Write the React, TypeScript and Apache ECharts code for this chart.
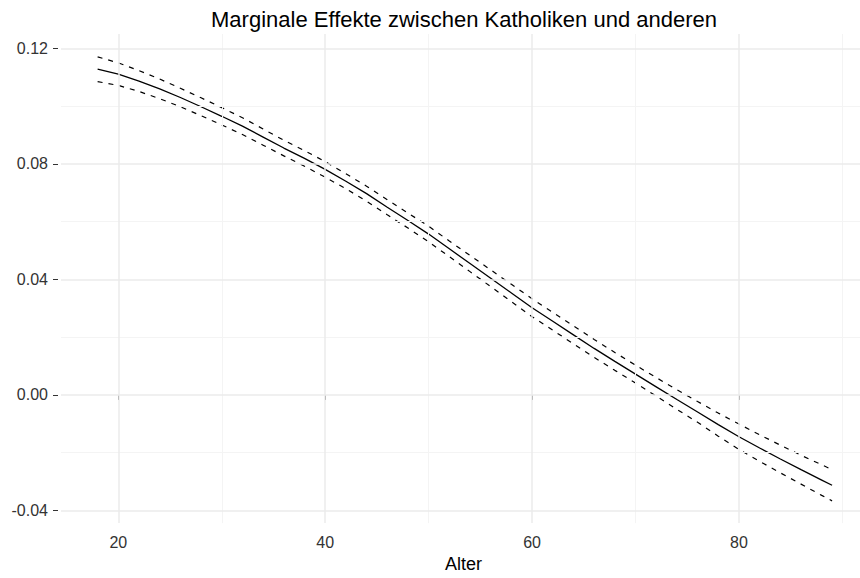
import React, { useEffect, useRef } from "react";
import * as echarts from "echarts";

// Age values (x)
const ages = [18, 20, 22, 24, 26, 28, 30, 32, 34, 36, 38, 40, 42, 44, 46, 48, 50, 52, 54, 56, 58, 60, 62, 64, 66, 68, 70, 72, 74, 76, 78, 80, 82, 84, 86, 88, 89];
// Marginal effect (solid line)
const effect = [0.1128, 0.1111, 0.1087, 0.106, 0.103, 0.0998, 0.0965, 0.0931, 0.0893, 0.0855, 0.0819, 0.0781, 0.074, 0.0697, 0.065, 0.0604, 0.0557, 0.0506, 0.0455, 0.0404, 0.0353, 0.0302, 0.0255, 0.0208, 0.0161, 0.0116, 0.0072, 0.0028, -0.0016, -0.0059, -0.0103, -0.0145, -0.0184, -0.0222, -0.0259, -0.0295, -0.0313];
// Upper confidence bound (dashed)
const upper = [0.1171, 0.115, 0.1123, 0.1094, 0.1062, 0.1029, 0.0995, 0.096, 0.0921, 0.0882, 0.0846, 0.0808, 0.0766, 0.0723, 0.0676, 0.063, 0.0584, 0.0533, 0.0483, 0.0433, 0.0383, 0.0333, 0.0286, 0.0239, 0.0192, 0.0147, 0.0103, 0.006, 0.0018, -0.0023, -0.0063, -0.0101, -0.0138, -0.0174, -0.0209, -0.0242, -0.0259];
// Lower confidence bound (dashed)
const lower = [0.1085, 0.1072, 0.1051, 0.1026, 0.0998, 0.0967, 0.0935, 0.0902, 0.0865, 0.0828, 0.0792, 0.0754, 0.0714, 0.0671, 0.0624, 0.0578, 0.053, 0.0479, 0.0427, 0.0375, 0.0323, 0.0271, 0.0224, 0.0177, 0.013, 0.0085, 0.0041, -0.0004, -0.005, -0.0095, -0.0143, -0.0189, -0.023, -0.027, -0.0309, -0.0348, -0.0367];

const xTicks = [20, 40, 60, 80];
const xMinor = [30, 50, 70, 90];
const yTicks = [-0.04, 0.0, 0.04, 0.08, 0.12];
const yMinor = [-0.02, 0.02, 0.06, 0.1];

const TITLE = "Marginale Effekte zwischen Katholiken und anderen";
const X_NAME = "Alter";

const FONT = "'Liberation Sans', Arial, sans-serif";

export default function App() {
  const ref = useRef<HTMLDivElement>(null);

  useEffect(() => {
    if (!ref.current) return;
    const chart = echarts.init(ref.current, null, { renderer: "svg" });

    const major = { color: "#ebebeb", width: 1.5, type: "solid" };
    const minor = { color: "#f4f4f4", width: 1, type: "solid" };
    const gridLines = [
      ...xMinor.map((v) => ({ xAxis: v, lineStyle: minor })),
      ...yMinor.map((v) => ({ yAxis: v, lineStyle: minor })),
      ...xTicks.map((v) => ({ xAxis: v, lineStyle: major })),
      ...yTicks.map((v) => ({ yAxis: v, lineStyle: major })),
    ];

    const pairs = (vals: number[]) => ages.map((a, i) => [a, vals[i]]);

    chart.setOption({
      animation: false,
      backgroundColor: "#ffffff",
      textStyle: { fontFamily: FONT },
      grid: { left: 61, right: 0, top: 34, bottom: 54, containLabel: false },
      graphic: [
        {
          type: "text",
          x: 464,
          y: 19,
          style: {
            text: TITLE,
            fill: "#000000",
            font: `22px ${FONT}`,
            textAlign: "center",
            textVerticalAlign: "middle",
          },
        },
      ],
      xAxis: {
        type: "value",
        min: 14.46,
        max: 91.7,
        offset: 1,
        name: X_NAME,
        nameLocation: "middle",
        nameGap: 30,
        nameTextStyle: { fontSize: 18, color: "#000000", fontFamily: FONT, padding: [0, 0, 0, 6] },
        axisLine: { show: false },
        axisTick: { show: true, length: 5, customValues: xTicks, lineStyle: { color: "#333333", width: 1 } },
        axisLabel: { customValues: xTicks, margin: 10, fontSize: 16, color: "#333333", fontFamily: FONT },
        splitLine: { show: false },
      },
      yAxis: {
        type: "value",
        min: -0.0444,
        max: 0.125,
        offset: 3,
        axisLine: { show: false },
        axisTick: { show: true, length: 5, customValues: yTicks, lineStyle: { color: "#333333", width: 1 } },
        axisLabel: {
          customValues: yTicks,
          margin: 10,
          fontSize: 16,
          color: "#333333",
          fontFamily: FONT,
          formatter: (v: number) => v.toFixed(2),
        },
        splitLine: { show: false },
      },
      series: [
        {
          name: "grid",
          type: "line",
          data: [],
          z: 0,
          silent: true,
          markLine: {
            silent: true,
            symbol: ["none", "none"],
            label: { show: false },
            animation: false,
            data: gridLines,
          },
        },
        {
          name: "upper",
          type: "line",
          data: pairs(upper),
          showSymbol: false,
          z: 3,
          lineStyle: { color: "#000000", width: 1.2, type: [5, 6] },
        },
        {
          name: "lower",
          type: "line",
          data: pairs(lower),
          showSymbol: false,
          z: 3,
          lineStyle: { color: "#000000", width: 1.2, type: [5, 6] },
        },
        {
          name: "effect",
          type: "line",
          data: pairs(effect),
          showSymbol: false,
          z: 4,
          lineStyle: { color: "#000000", width: 1.3, type: "solid" },
        },
      ],
    });

    return () => chart.dispose();
  }, []);

  return (
    <div
      ref={ref}
      style={{ position: "fixed", left: 0, top: 0, width: 860, height: 578, background: "#fff" }}
    />
  );
}
